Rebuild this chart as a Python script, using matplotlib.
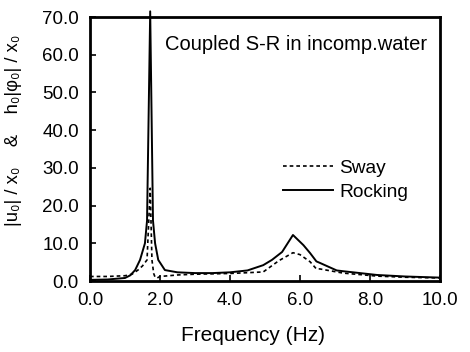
import matplotlib
matplotlib.use("Agg")
import matplotlib.pyplot as plt

plt.rcParams['font.family'] = ['Liberation Sans', 'DejaVu Sans']

freq_rock = [0.0, 0.5, 1.0, 1.15, 1.29, 1.43, 1.57, 1.63, 1.72, 1.80, 1.86, 1.95, 2.14, 2.5, 3.0, 3.5, 4.0, 4.5, 4.95, 5.2, 5.49, 5.8, 6.1, 6.29, 6.47, 6.57, 7.05, 7.23, 8.2, 9.0, 10.0]
rocking   = [0.3, 0.4, 0.8, 1.5, 2.9, 5.6, 10.0, 16.0, 71.5, 16.0, 10.0, 5.6, 2.9, 2.3, 2.1, 2.1, 2.3, 2.8, 4.2, 5.6, 7.7, 12.2, 9.5, 7.4, 5.2, 4.8, 2.8, 2.6, 1.6, 1.2, 0.9]

freq_sway = [0.0, 0.5, 1.0, 1.2, 1.37, 1.5, 1.63, 1.72, 1.77, 1.82, 1.86, 1.92, 2.0, 2.5, 3.0, 3.5, 4.0, 4.5, 4.95, 5.4, 5.8, 6.0, 6.29, 6.47, 6.57, 7.23, 8.2, 9.0, 10.0]
sway      = [1.2, 1.2, 1.4, 1.8, 2.9, 4.0, 5.6, 24.6, 5.6, 2.0, 1.0, 0.8, 1.2, 1.6, 1.8, 1.9, 2.0, 2.2, 2.4, 5.4, 7.5, 7.0, 5.1, 3.2, 3.2, 2.1, 1.3, 1.0, 0.8]

xticks = [0, 2, 4, 6, 8, 10]
yticks = [0, 10, 20, 30, 40, 50, 60, 70]

fig = plt.figure(figsize=(4.7, 3.52), dpi=100)
ax = fig.add_axes([0.1915, 0.2017, 0.7445, 0.75])

ax.plot(freq_sway, sway, color='black', lw=1.2, ls=(0, (2.2, 1.8)), label='Sway')
ax.plot(freq_rock, rocking, color='black', lw=1.4, label='Rocking', clip_on=False)

ax.set_xlim(0, 10)
ax.set_ylim(0, 70)
ax.set_xticks(xticks)
ax.set_yticks(yticks)
ax.set_xticklabels([f"{v:.1f}" for v in xticks])
ax.set_yticklabels([f"{v:.1f}" for v in yticks])
ax.tick_params(direction='in', length=4, width=1.2, labelsize=13.5, pad=8, colors='black')
for s in ax.spines.values():
    s.set_linewidth(2.0)

ax.set_xlabel('Frequency (Hz)', fontsize=15)
ax.xaxis.set_label_coords(0.467, -0.17)
ax.set_ylabel('|u₀| / x₀    &    h₀|φ₀| / x₀', fontsize=13.2)
ax.yaxis.set_label_coords(-0.194, 0.572)

ax.text(0.589, 0.895, 'Coupled S-R in incomp.water', transform=ax.transAxes,
        ha='center', va='center', fontsize=14.5)

leg = ax.legend(loc='upper left', bbox_to_anchor=(0.531, 0.49), frameon=False,
                fontsize=13.8, handlelength=2.6, handletextpad=0.3, labelspacing=0.35,
                borderaxespad=0)

fig.savefig('out.png', dpi=100)
